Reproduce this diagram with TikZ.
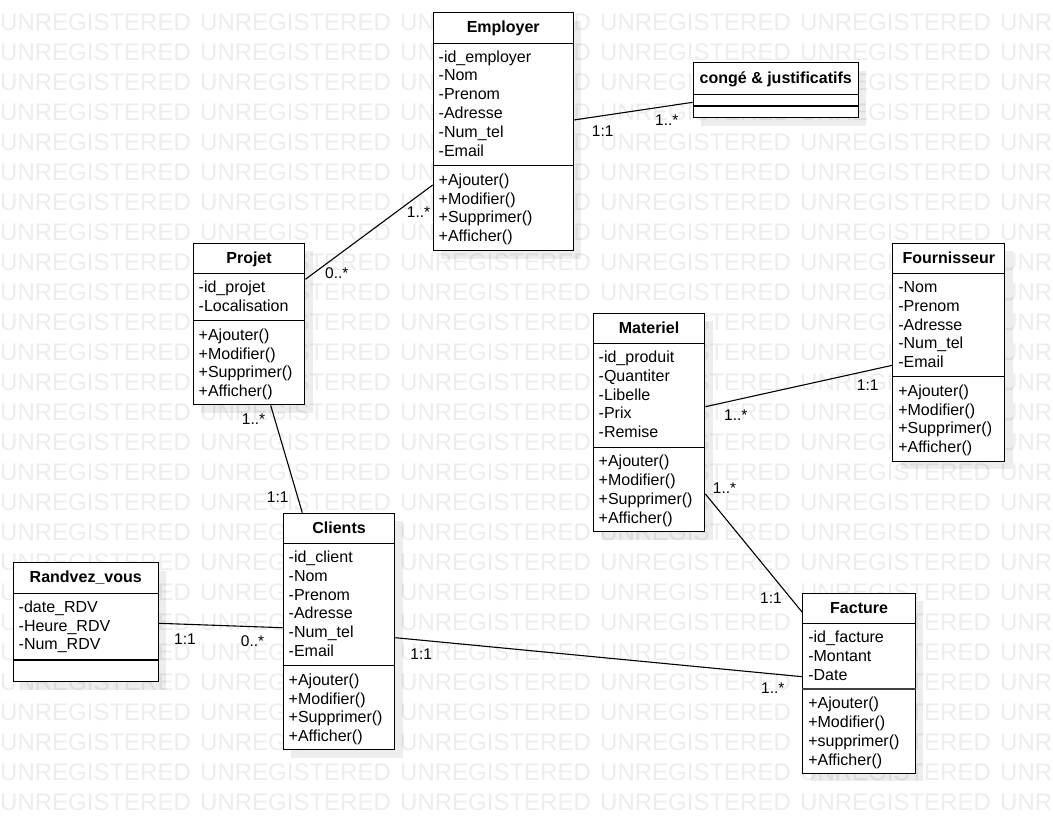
\documentclass[tikz,border=0pt]{standalone}
\usepackage{fontspec}
\setmainfont{Liberation Sans}
\usetikzlibrary{shadows}
\begin{document}
\begin{tikzpicture}[x=1pt,y=-1pt,
  wm/.style={anchor=base west,inner sep=0pt,font=\fontsize{24}{24}\selectfont,text=black!7},
  cls/.style={draw=black,fill=white,line width=1.1pt,inner sep=0pt,anchor=north west,
    drop shadow={shadow xshift=8pt,shadow yshift=-8pt,fill=black,opacity=0.07}},
  sepline/.style={draw=black,line width=1.1pt},
  ttl/.style={anchor=base,inner sep=0pt,font=\bfseries\fontsize{16}{16}\selectfont},
  txt/.style={anchor=base west,inner sep=0pt,font=\fontsize{16}{16}\selectfont},
  lbl/.style={anchor=base west,inner sep=0pt,font=\fontsize{15.5}{15.5}\selectfont},
  assoc/.style={draw=black,line width=1.1pt}]
\useasboundingbox (0,0) rectangle (1053,823);
\fill[white] (0,0) rectangle (1053,823);
% watermark
\begin{scope}
\clip (0,0) rectangle (1053,823);
\foreach \r in {1,...,27}{\foreach \c in {0,...,5}{
  \node[wm] (wm-\r-\c) at (\c*200,\r*30) {UNREGISTERED};}}
\end{scope}
% ---- Employer
\node[cls,minimum width=140pt,minimum height=237.7pt] (emp) at (432.7,12.3) {};
\node[ttl] (emp-t) at ([yshift=-20.5pt]emp.north) {Employer};
\draw[sepline] ([yshift=-30.8pt]emp.north west) -- ([yshift=-30.8pt]emp.north east);
\draw[sepline] ([yshift=-153.4pt]emp.north west) -- ([yshift=-153.4pt]emp.north east);
\foreach \t [count=\i from 0] in {-id\_employer,-Nom,-Prenom,-Adresse,-Num\_tel,-Email}
  \node[txt] (emp-a\i) at ([xshift=5.8pt,yshift={-49.8pt-\i*18.8pt}]emp.north west) {\t};
\foreach \t [count=\i from 0] in {+Ajouter(),+Modifier(),+Supprimer(),+Afficher()}
  \node[txt] (emp-m\i) at ([xshift=5.8pt,yshift={-172.9pt-\i*18.8pt}]emp.north west) {\t};
% ---- conge
\node[cls,minimum width=165pt,minimum height=55pt] (cg) at (692.7,62.3) {};
\node[ttl] (cg-t) at ([yshift=-21pt]cg.north) {congé \& justificatifs};
\draw[sepline] ([yshift=-32pt]cg.north west) -- ([yshift=-32pt]cg.north east);
\draw[sepline] ([yshift=-43.7pt]cg.north west) -- ([yshift=-43.7pt]cg.north east);
% ---- Projet
\node[cls,minimum width=111.6pt,minimum height=161.6pt] (proj) at (192.7,242.7) {};
\node[ttl] (proj-t) at ([yshift=-20.5pt]proj.north) {Projet};
\draw[sepline] ([yshift=-30.8pt]proj.north west) -- ([yshift=-30.8pt]proj.north east);
\draw[sepline] ([yshift=-78pt]proj.north west) -- ([yshift=-78pt]proj.north east);
\foreach \t [count=\i from 0] in {-id\_projet,-Localisation}
  \node[txt] (proj-a\i) at ([xshift=5.8pt,yshift={-49.8pt-\i*18.8pt}]proj.north west) {\t};
\foreach \t [count=\i from 0] in {+Ajouter(),+Modifier(),+Supprimer(),+Afficher()}
  \node[txt] (proj-m\i) at ([xshift=5.8pt,yshift={-97.5pt-\i*18.8pt}]proj.north west) {\t};
% ---- Materiel
\node[cls,minimum width=111.6pt,minimum height=218.3pt] (mat) at (592.7,312.7) {};
\node[ttl] (mat-t) at ([yshift=-20.5pt]mat.north) {Materiel};
\draw[sepline] ([yshift=-30.8pt]mat.north west) -- ([yshift=-30.8pt]mat.north east);
\draw[sepline] ([yshift=-134.6pt]mat.north west) -- ([yshift=-134.6pt]mat.north east);
\foreach \t [count=\i from 0] in {-id\_produit,-Quantiter,-Libelle,-Prix,-Remise}
  \node[txt] (mat-a\i) at ([xshift=5.8pt,yshift={-49.8pt-\i*18.8pt}]mat.north west) {\t};
\foreach \t [count=\i from 0] in {+Ajouter(),+Modifier(),+Supprimer(),+Afficher()}
  \node[txt] (mat-m\i) at ([xshift=5.8pt,yshift={-154.1pt-\i*18.8pt}]mat.north west) {\t};
% ---- Fournisseur
\node[cls,minimum width=112pt,minimum height=218pt] (four) at (892.3,242.7) {};
\node[ttl] (four-t) at ([yshift=-20.5pt]four.north) {Fournisseur};
\draw[sepline] ([yshift=-30.8pt]four.north west) -- ([yshift=-30.8pt]four.north east);
\draw[sepline] ([yshift=-134pt]four.north west) -- ([yshift=-134pt]four.north east);
\foreach \t [count=\i from 0] in {-Nom,-Prenom,-Adresse,-Num\_tel,-Email}
  \node[txt] (four-a\i) at ([xshift=5.8pt,yshift={-49.8pt-\i*18.8pt}]four.north west) {\t};
\foreach \t [count=\i from 0] in {+Ajouter(),+Modifier(),+Supprimer(),+Afficher()}
  \node[txt] (four-m\i) at ([xshift=5.8pt,yshift={-153.5pt-\i*18.8pt}]four.north west) {\t};
% ---- Clients
\node[cls,minimum width=111.6pt,minimum height=236.6pt] (cli) at (282.7,512.7) {};
\node[ttl] (cli-t) at ([yshift=-20.5pt]cli.north) {Clients};
\draw[sepline] ([yshift=-30.8pt]cli.north west) -- ([yshift=-30.8pt]cli.north east);
\draw[sepline] ([yshift=-153pt]cli.north west) -- ([yshift=-153pt]cli.north east);
\foreach \t [count=\i from 0] in {-id\_client,-Nom,-Prenom,-Adresse,-Num\_tel,-Email}
  \node[txt] (cli-a\i) at ([xshift=5.8pt,yshift={-49.8pt-\i*18.8pt}]cli.north west) {\t};
\foreach \t [count=\i from 0] in {+Ajouter(),+Modifier(),+Supprimer(),+Afficher()}
  \node[txt] (cli-m\i) at ([xshift=5.8pt,yshift={-172.5pt-\i*18.8pt}]cli.north west) {\t};
% ---- Randvez_vous
\node[cls,minimum width=145pt,minimum height=118.7pt] (rdv) at (12.7,562.3) {};
\node[ttl] (rdv-t) at ([yshift=-20.5pt]rdv.north) {Randvez\_vous};
\draw[sepline] ([yshift=-31pt]rdv.north west) -- ([yshift=-31pt]rdv.north east);
\draw[sepline] ([yshift=-97.7pt]rdv.north west) -- ([yshift=-97.7pt]rdv.north east);
\foreach \t [count=\i from 0] in {-date\_RDV,-Heure\_RDV,-Num\_RDV}
  \node[txt] (rdv-a\i) at ([xshift=5.8pt,yshift={-50pt-\i*18.8pt}]rdv.north west) {\t};
% ---- Facture
\node[cls,minimum width=112.5pt,minimum height=180pt] (fac) at (802.3,592.7) {};
\node[ttl] (fac-t) at ([yshift=-20.5pt]fac.north) {Facture};
\draw[sepline] ([yshift=-30.8pt]fac.north west) -- ([yshift=-30.8pt]fac.north east);
\draw[sepline,line width=1.8pt,draw=black!75] ([yshift=-96.6pt]fac.north west) -- ([yshift=-96.6pt]fac.north east);
\foreach \t [count=\i from 0] in {-id\_facture,-Montant,-Date}
  \node[txt] (fac-a\i) at ([xshift=5.8pt,yshift={-49.8pt-\i*18.8pt}]fac.north west) {\t};
\foreach \t [count=\i from 0] in {+Ajouter(),+Modifier(),+supprimer(),+Afficher()}
  \node[txt] (fac-m\i) at ([xshift=5.8pt,yshift={-116pt-\i*18.8pt}]fac.north west) {\t};
% ---- connectors
\draw[assoc] ([yshift=-107.7pt]emp.north east) -- ([yshift=-40pt]cg.north west);
\draw[assoc] ([yshift=-36.6pt]proj.north east) -- ([yshift=-172.7pt]emp.north west);
\draw[assoc] ([xshift=78pt]proj.south west) -- ([xshift=19.6pt]cli.north west);
\draw[assoc] ([yshift=-94pt]mat.north east) -- ([yshift=-122.6pt]four.north west);
\draw[assoc] ([yshift=-181.3pt]mat.north east) -- ([yshift=-19.6pt]fac.north west);
\draw[assoc] ([yshift=-61pt]rdv.north east) -- ([yshift=-115pt]cli.north west);
\draw[assoc] ([yshift=-125pt]cli.north east) -- ([yshift=-84pt]fac.north west);
% ---- multiplicities
\node[lbl] (l1) at (591.7,136.7) {1:1};
\node[lbl] (l2) at (655,125) {1..*};
\node[lbl] (l3) at (325,278.3) {0..*};
\node[lbl] (l4) at (406.7,217.3) {1..*};
\node[lbl] (l5) at (241.7,424.3) {1..*};
\node[lbl] (l6) at (266.7,502.7) {1:1};
\node[lbl] (l7) at (724,420) {1..*};
\node[lbl] (l8) at (856.7,390.7) {1:1};
\node[lbl] (l9) at (712.7,493.3) {1..*};
\node[lbl] (l10) at (760,603.3) {1:1};
\node[lbl] (l11) at (174,644) {1:1};
\node[lbl] (l12) at (240.7,646) {0..*};
\node[lbl] (l13) at (410.2,659.3) {1:1};
\node[lbl] (l14) at (761,693.3) {1..*};
\end{tikzpicture}
\end{document}
